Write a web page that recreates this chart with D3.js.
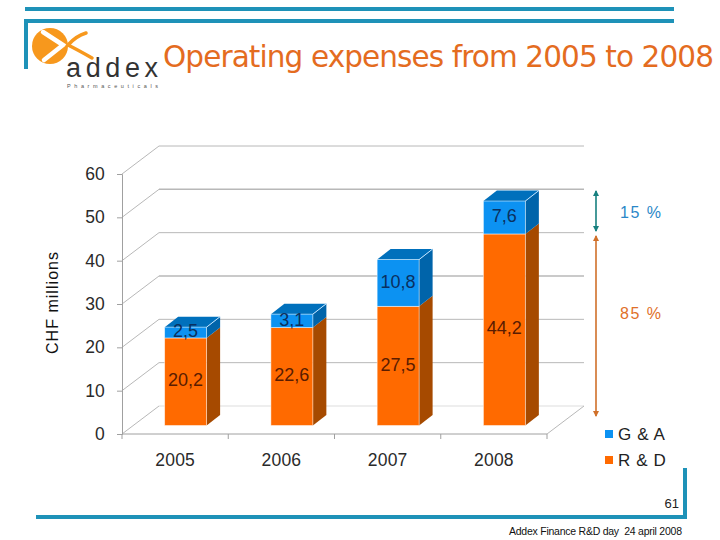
<!DOCTYPE html>
<html>
<head>
<meta charset="utf-8">
<script src="https://cdnjs.cloudflare.com/ajax/libs/d3/7.8.5/d3.min.js"></script>
<style>
  html, body { margin: 0; padding: 0; background: #fff; }
  svg { display: block; font-family: "Liberation Sans", Arial, sans-serif; }
</style>
</head>
<body>
<div id="chart"></div>
<script>
const years = ['2005', '2006', '2007', '2008'];
const rdValues = [20.2, 22.6, 27.5, 44.2];
const gaValues = [2.5, 3.1, 10.8, 7.6];
const yTicks = [0, 10, 20, 30, 40, 50, 60];
const legendLabels = ['G & A', 'R & D'];
const shareLabels = ['15 %', '85 %'];

const frameColor = '#1e92b8', gridColor = '#b8b8b8', axisColor = '#a0a0a0';
const rdFront = '#ff6a00', rdSide = '#a64a00';
const gaFront = '#0c92f2', gaSide = '#0064aa', gaTop = '#0070bc';

const svg = d3.select('#chart').append('svg')
  .attr('width', 720)
  .attr('height', 540);

// slide frame
const frame = svg.append('g').attr('fill', frameColor);
[[25, 7, 649, 4], [24, 19, 650, 4], [24, 19, 4, 50], [683, 468, 4, 51], [36, 515, 651, 4]]
  .forEach(r => {
    frame.append('rect').attr('x', r[0]).attr('y', r[1]).attr('width', r[2]).attr('height', r[3]);
  });

// logo
const logo = svg.append('g');
logo.append('circle').attr('cx', 50).attr('cy', 46).attr('r', 18).attr('fill', '#f7981d');
logo.append('path')
  .attr('d', 'M43,32 L63,45 L44,60')
  .attr('fill', 'none').attr('stroke', '#fff').attr('stroke-width', 4.5).attr('stroke-linecap', 'round');
logo.append('path')
  .attr('d', 'M86,33 Q76,36 68,45 Q78,50 92,58')
  .attr('fill', 'none').attr('stroke', '#f7981d').attr('stroke-width', 3.5).attr('stroke-linecap', 'round');
logo.append('text').text('addex')
  .attr('x', 66).attr('y', 76.5)
  .attr('font-size', 27).attr('textLength', 92).attr('fill', '#333');
logo.append('text').text('Pharmaceuticals')
  .attr('x', 67).attr('y', 88)
  .attr('font-size', 5.5).attr('textLength', 91).attr('fill', '#555');

svg.append('text').text('Operating expenses from 2005 to 2008')
  .attr('x', 163).attr('y', 67)
  .attr('font-size', 29.5)
  .attr('fill', '#e46c1f')
  .attr('textLength', 551)
  .style('font-family', '"DejaVu Sans", sans-serif');

// scales
const y = d3.scaleLinear().domain([0, 60]).range([434, 174]);
const x = d3.scaleBand().domain(years).range([122, 547]).paddingInner(0.605).paddingOuter(0.3025);

// 3d offsets: wall behind the front plane, bars sit part way into the floor
const wallDx = 37, wallDy = -28;
const barDx = 10.5, barDy = -8.5, depthDx = 13.5, depthDy = -10.5;
const comma = d3.formatLocale({ decimal: ',', thousands: '.', grouping: [3], currency: ['', ''] }).format('.1f');

// walls and gridlines
const grid = svg.append('g').attr('fill', 'none').attr('stroke', gridColor);
yTicks.forEach(t => {
  const back = t === 0 ? '#dddddd' : gridColor;
  grid.append('line')
    .attr('x1', x.range()[0]).attr('y1', y(t))
    .attr('x2', x.range()[0] + wallDx).attr('y2', y(t) + wallDy);
  grid.append('line')
    .attr('x1', x.range()[0] + wallDx).attr('y1', y(t) + wallDy)
    .attr('x2', x.range()[1] + wallDx).attr('y2', y(t) + wallDy)
    .attr('stroke', back)
    .attr('stroke-width', t === 50 || t === 30 ? 1.5 : 1);
});
grid.append('line')
  .attr('x1', x.range()[1]).attr('y1', y(0))
  .attr('x2', x.range()[1] + wallDx).attr('y2', y(0) + wallDy);

// axes
const yAxis = svg.append('g')
  .attr('transform', `translate(${x.range()[0]},0)`)
  .call(d3.axisLeft(y).tickValues(yTicks).tickSize(5).tickPadding(12).tickFormat(d3.format('d')));
const xAxis = svg.append('g')
  .attr('transform', `translate(0,${y(0)})`)
  .call(d3.axisBottom(x).tickSize(0).tickPadding(20));
[yAxis, xAxis].forEach(a => {
  a.selectAll('path, line').attr('stroke', axisColor);
  a.selectAll('text').attr('font-size', 17.5).attr('letter-spacing', 0.2).attr('fill', '#2a2a2a')
    .style('font-family', '"Liberation Sans", Arial, sans-serif');
});
xAxis.select('.domain').attr('d', `M${x.range()[0]},0H${x.range()[1]}`);
const step = x.step();
d3.range(years.length + 1).forEach(i => {
  xAxis.append('line')
    .attr('x1', x.range()[0] + i * step).attr('x2', x.range()[0] + i * step)
    .attr('y1', 0).attr('y2', 5)
    .attr('stroke', axisColor);
});

// stacked boxes
const drawBox = (g, left, v0, v1, front, side, top) => {
  const w = x.bandwidth(), yb = y(v0) + barDy, yt = y(v1) + barDy, l = left + barDx;
  g.append('path')
    .attr('d', `M${l + w},${yb}L${l + w + depthDx},${yb + depthDy}L${l + w + depthDx},${yt + depthDy}L${l + w},${yt}Z`)
    .attr('fill', side);
  if (top) {
    g.append('path')
      .attr('d', `M${l},${yt}L${l + depthDx},${yt + depthDy}L${l + w + depthDx},${yt + depthDy}L${l + w},${yt}Z`)
      .attr('fill', top);
    g.append('path')
      .attr('d', `M${l + w},${yt}L${l + w + depthDx},${yt + depthDy}`)
      .attr('stroke', '#bfe3ff').attr('fill', 'none');
  }
  g.append('rect')
    .attr('x', l).attr('y', yt).attr('width', w).attr('height', yb - yt)
    .attr('fill', front)
    .attr('stroke', '#ffffff').attr('stroke-opacity', 0.6).attr('stroke-width', 0.8);
};

const bars = svg.append('g');
years.forEach((yr, i) => {
  const g = bars.append('g');
  drawBox(g, x(yr), 0, rdValues[i], rdFront, rdSide, null);
  drawBox(g, x(yr), rdValues[i], rdValues[i] + gaValues[i], gaFront, gaSide, gaTop);
});

// value labels
const labelLayer = svg.append('g')
  .attr('text-anchor', 'middle')
  .attr('font-size', 18)
  .attr('dominant-baseline', 'middle');
years.forEach((yr, i) => {
  const cx = x(yr) + x.bandwidth() / 2 + barDx;
  labelLayer.append('text').text(comma(rdValues[i]))
    .attr('x', cx).attr('y', y(rdValues[i] / 2) + barDy)
    .attr('fill', '#5a1c00');
  labelLayer.append('text').text(comma(gaValues[i]))
    .attr('x', cx).attr('y', y(rdValues[i] + gaValues[i] / 2) + barDy)
    .attr('fill', '#0a3060');
});

// axis title
svg.append('text').text('CHF millions')
  .attr('transform', 'translate(58,303) rotate(-90)')
  .attr('text-anchor', 'middle')
  .attr('font-size', 16)
  .attr('textLength', 102)
  .attr('fill', '#111');

// share brackets
const defs = svg.append('defs');
[['tealHead', '#17807f'], ['orangeHead', '#d0702a']].forEach(m => {
  defs.append('marker')
    .attr('id', m[0])
    .attr('viewBox', '0 0 6 6').attr('refX', 5).attr('refY', 3)
    .attr('markerWidth', 6).attr('markerHeight', 6)
    .attr('markerUnits', 'userSpaceOnUse')
    .attr('orient', 'auto-start-reverse')
    .append('path').attr('d', 'M0,0L6,3L0,6Z').attr('fill', m[1]);
});
svg.append('line')
  .attr('x1', 596).attr('x2', 596).attr('y1', 191).attr('y2', 231)
  .attr('stroke', '#17807f').attr('stroke-width', 1.6)
  .attr('marker-start', 'url(#tealHead)').attr('marker-end', 'url(#tealHead)');
svg.append('line')
  .attr('x1', 596).attr('x2', 596).attr('y1', 236).attr('y2', 416)
  .attr('stroke', '#d0702a').attr('stroke-width', 1.6)
  .attr('marker-start', 'url(#orangeHead)').attr('marker-end', 'url(#orangeHead)');
svg.append('text').text(shareLabels[0])
  .attr('x', 620).attr('y', 218)
  .attr('font-size', 16).attr('textLength', 41).attr('fill', '#2a87c8');
svg.append('text').text(shareLabels[1])
  .attr('x', 620).attr('y', 319)
  .attr('font-size', 16).attr('textLength', 41).attr('fill', '#e0702a');

// legend
const legend = svg.append('g')
  .selectAll('g')
  .data(legendLabels)
  .join('g')
    .attr('transform', (d, i) => `translate(605,${430 + i * 26})`);
legend.append('rect')
  .attr('width', 8).attr('height', 8)
  .attr('fill', (d, i) => i === 0 ? gaFront : rdFront);
legend.append('text')
  .text(d => d)
  .attr('x', 13).attr('y', 9.5)
  .attr('font-size', 17)
  .attr('letter-spacing', 0.6)
  .attr('fill', '#222');

// footer
svg.append('text').text('61')
  .attr('x', 679).attr('y', 508)
  .attr('text-anchor', 'end')
  .attr('font-size', 13).attr('fill', '#222');
svg.append('text').text('Addex Finance R&D day  24 april 2008')
  .attr('x', 509).attr('y', 535)
  .attr('font-size', 10.5)
  .attr('textLength', 173)
  .attr('fill', '#111')
  .style('white-space', 'pre');
</script>
</body>
</html>
